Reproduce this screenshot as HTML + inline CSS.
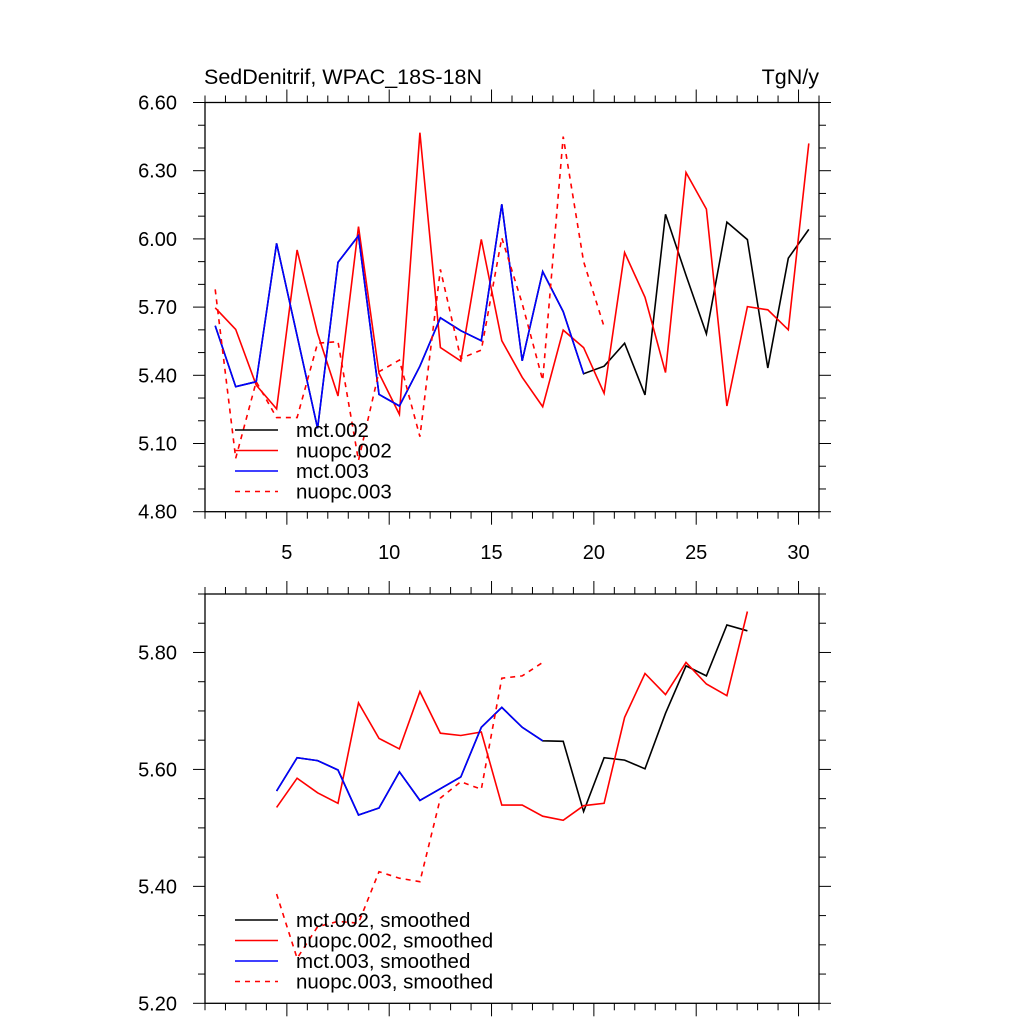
<!DOCTYPE html>
<html><head><meta charset="utf-8"><style>
html,body{margin:0;padding:0;background:#fff;}
svg{display:block;font-family:"Liberation Sans",sans-serif;}
</style></head><body>
<svg id="c" width="1024" height="1024" viewBox="0 0 1024 1024"></svg>
<script>
const xs=[1.5,2.5,3.5,4.5,5.5,6.5,7.5,8.5,9.5,10.5,11.5,12.5,13.5,14.5,15.5,16.5,17.5,18.5,19.5,20.5,21.5,22.5,23.5,24.5,25.5,26.5,27.5,28.5,29.5,30.5];
const mct002=[5.618,5.35,5.372,5.98,5.574,5.167,5.897,6.014,5.316,5.265,5.44,5.653,5.596,5.552,6.152,5.464,5.856,5.68,5.407,5.44,5.541,5.314,6.108,5.84,5.582,6.074,5.997,5.432,5.915,6.042];
const mct003=[5.618,5.35,5.372,5.98,5.574,5.167,5.897,6.014,5.316,5.265,5.44,5.653,5.596,5.552,6.152,5.464,5.856,5.68,5.407];
const nuopc002=[5.697,5.602,5.357,5.252,5.951,5.584,5.309,6.054,5.409,5.228,6.467,5.522,5.463,5.998,5.552,5.391,5.262,5.599,5.522,5.321,5.94,5.743,5.412,6.292,6.131,5.265,5.702,5.688,5.6,6.42];
const nuopc003=[5.778,5.035,5.372,5.214,5.214,5.541,5.548,5.025,5.416,5.467,5.13,5.866,5.474,5.511,6.005,5.716,5.378,6.45,5.9,5.614];
const sx=[4.5,5.5,6.5,7.5,8.5,9.5,10.5,11.5,12.5,13.5,14.5,15.5,16.5,17.5,18.5,19.5,20.5,21.5,22.5,23.5,24.5,25.5,26.5,27.5];
const mct002s=[5.563,5.620,5.615,5.599,5.522,5.534,5.596,5.547,5.567,5.587,5.672,5.706,5.672,5.649,5.648,5.528,5.620,5.616,5.601,5.696,5.777,5.760,5.847,5.837];
const mct003s=[5.563,5.620,5.615,5.599,5.522,5.534,5.596,5.547,5.567,5.587,5.672,5.706,5.672,5.649];
const nuopc002s=[5.535,5.585,5.560,5.542,5.714,5.653,5.635,5.733,5.662,5.658,5.664,5.539,5.539,5.520,5.513,5.538,5.542,5.689,5.764,5.728,5.783,5.746,5.726,5.870];
const nuopc003s=[5.387,5.277,5.331,5.340,5.337,5.425,5.414,5.408,5.551,5.579,5.566,5.756,5.760,5.783];
const xTicks=[5,10,15,20,25,30];
const topYTicks=["4.80","5.10","5.40","5.70","6.00","6.30","6.60"];
const botYTicks=["5.20","5.40","5.60","5.80"];

const svg=document.getElementById('c');
const NS='http://www.w3.org/2000/svg';
function mk(tag,at,parent){const e=document.createElementNS(NS,tag);for(const k in at)e.setAttribute(k,at[k]);(parent||svg).appendChild(e);return e;}
const L=205,R=819,X0=1,X1=31;
function xp(v){return L+(v-X0)/(X1-X0)*(R-L);}

function panel(name,T,B,ymin,ymax,yTicks,minorStep,showX,series,legend,legY){
  const g=mk('g',{});
  
  
  const yp=v=>B-(v-ymin)/(ymax-ymin)*(B-T);
  const fr=mk('rect',{x:L,y:T,width:R-L,height:B-T,fill:'none',stroke:'#000','stroke-width':1.3},g);
  
  
  for(let v=X0;v<=X1;v++){
    const maj=v%5===0;const len=maj?13:7;const x=xp(v);
    mk('line',{x1:x,x2:x,y1:B,y2:B+len,stroke:'#000','stroke-width':1},g);
    mk('line',{x1:x,x2:x,y1:T,y2:T-len,stroke:'#000','stroke-width':1},g);
  }
  if(showX){
    xTicks.forEach(v=>{
      const t=mk('text',{x:xp(v),y:559,'font-size':20,'text-anchor':'middle'},g);
      t.textContent=v;
      
      
    });
  }
  const n=Math.round((ymax-ymin)/minorStep);
  const majStep=parseFloat(yTicks[1])-parseFloat(yTicks[0]);
  for(let i=0;i<=n;i++){
    const v=ymin+i*minorStep;const y=yp(v);
    const maj=Math.abs((v-ymin)/majStep-Math.round((v-ymin)/majStep))<1e-6;
    const len=maj?12:7;
    mk('line',{x1:L,x2:L-len,y1:y,y2:y,stroke:'#000','stroke-width':1},g);
    mk('line',{x1:R,x2:R+len,y1:y,y2:y,stroke:'#000','stroke-width':1},g);
  }
  yTicks.forEach(s=>{
    const t=mk('text',{x:177,y:yp(parseFloat(s))+7,'font-size':20,'text-anchor':'end'},g);
    t.textContent=s;
    
    
  });
  series.forEach(s=>{
    const pts=s.y.map((v,i)=>xp(s.x[i]).toFixed(1)+','+yp(v).toFixed(1)).join(' ');
    const p=mk('polyline',{points:pts,fill:'none',stroke:s.c,'stroke-width':1.6,'stroke-dasharray':s.d?'5,5':'none'},g);
    
    
  });
  legend.forEach((s,i)=>{
    const y=legY+i*20.5;
    const lg=mk('g',{},g);
    
    
    mk('line',{x1:235,x2:278,y1:y,y2:y,stroke:s.c,'stroke-width':1.6,'stroke-dasharray':s.d?'5,5':'none'},lg);
    const t=mk('text',{x:296,y:y+7,'font-size':20.5},lg);
    t.textContent=s.label;
  });
}
const topSeries=[
 {n:'line-mct-002',x:xs,y:mct002,c:'#000'},
 {n:'line-nuopc-002',x:xs,y:nuopc002,c:'#f00'},
 {n:'line-mct-003',x:xs,y:mct003,c:'#00f'},
 {n:'line-nuopc-003',x:xs,y:nuopc003,c:'#f00',d:1}];
panel('top-panel',102.5,511.7,4.8,6.6,topYTicks,0.1,true,topSeries,[
 {c:'#000',label:'mct.002'},{c:'#f00',label:'nuopc.002'},{c:'#00f',label:'mct.003'},{c:'#f00',d:1,label:'nuopc.003'}],430);
const botSeries=[
 {n:'line-mct-002-smoothed',x:sx,y:mct002s,c:'#000'},
 {n:'line-nuopc-002-smoothed',x:sx,y:nuopc002s,c:'#f00'},
 {n:'line-mct-003-smoothed',x:sx,y:mct003s,c:'#00f'},
 {n:'line-nuopc-003-smoothed',x:sx,y:nuopc003s,c:'#f00',d:1}];
panel('bottom-panel',594,1003.3,5.2,5.9,botYTicks,0.05,false,botSeries,[
 {c:'#000',label:'mct.002, smoothed'},{c:'#f00',label:'nuopc.002, smoothed'},{c:'#00f',label:'mct.003, smoothed'},{c:'#f00',d:1,label:'nuopc.003, smoothed'}],920);
const t1=mk('text',{x:204,y:84,'font-size':21.5});
t1.textContent='SedDenitrif, WPAC_18S-18N';


const t2=mk('text',{x:819,y:84,'font-size':21.5,'text-anchor':'end'});
t2.textContent='TgN/y';


</script>
</body></html>
